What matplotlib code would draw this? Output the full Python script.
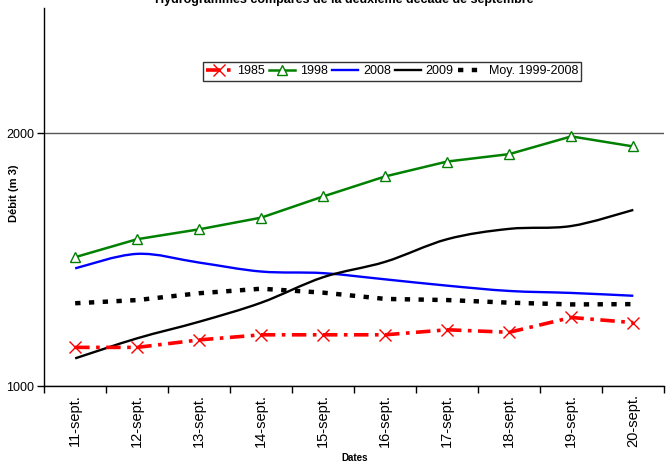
import numpy as np
import matplotlib
matplotlib.use("Agg")
import matplotlib.pyplot as plt
from matplotlib.path import Path
from matplotlib.patches import PathPatch
from matplotlib.lines import Line2D

# ==========================================
# données (m3)
# ==========================================
dates = ['11-sept.', '12-sept.', '13-sept.', '14-sept.', '15-sept.',
         '16-sept.', '17-sept.', '18-sept.', '19-sept.', '20-sept.']
q_1985 = [1112, 1112, 1135, 1151, 1151, 1151, 1167, 1159, 1207, 1190]
q_1998 = [1424, 1496, 1537, 1587, 1682, 1777, 1851, 1889, 1983, 1929]
q_2008 = [1381, 1437, 1403, 1369, 1363, 1340, 1317, 1298, 1291, 1281]
q_2009 = [1079, 1140, 1193, 1257, 1348, 1406, 1496, 1539, 1551, 1621]
q_moy = [1255, 1266, 1290, 1306, 1292, 1270, 1266, 1257, 1251, 1252]
yticks = [1000, 2000]

TITLE = 'Hydrogrammes comparés de la deuxième décade de septembre'
plt.rcParams['font.family'] = ['Liberation Sans', 'DejaVu Sans']


def smooth_path(xs, ys):
    # courbe lissée façon Excel : Catmull-Rom -> Bézier, en espace log
    px = np.asarray(xs, dtype=float)
    py = np.log10(np.asarray(ys, dtype=float))
    n = len(px)
    verts = [(px[0], 10 ** py[0])]
    codes = [Path.MOVETO]
    for i in range(n - 1):
        i0, i3 = max(i - 1, 0), min(i + 2, n - 1)
        c1 = (px[i] + (px[i + 1] - px[i0]) / 6, py[i] + (py[i + 1] - py[i0]) / 6)
        c2 = (px[i + 1] - (px[i3] - px[i]) / 6, py[i + 1] - (py[i3] - py[i]) / 6)
        verts += [(c1[0], 10 ** c1[1]), (c2[0], 10 ** c2[1]), (px[i + 1], 10 ** py[i + 1])]
        codes += [Path.CURVE4] * 3
    return Path(verts, codes)


fig = plt.figure(figsize=(6.69, 4.68), dpi=100)
ax = fig.add_axes([0.066, 0.175, 0.927, 0.808])
x = np.arange(len(dates))

ax.set_yscale('log')
ax.set_ylim(1000, 2820)
ax.set_xlim(-0.5, len(dates) - 0.5)

ax.plot(x, q_moy, color='black', lw=3.2, linestyle=(0, (1.2, 1.9)), zorder=3)
for serie, col in [(q_2008, 'blue'), (q_2009, 'black')]:
    ax.add_patch(PathPatch(smooth_path(x, serie), fill=False, edgecolor=col, lw=1.7, zorder=4))
ax.plot(x, q_1985, color='red', lw=2.6, linestyle=(0, (4, 1.8, 1, 1.8)),
        marker='x', ms=8, mew=1.0, zorder=5)
ax.plot(x, q_1998, color='#008000', lw=1.8, marker='^', ms=7.5, mfc='white',
        mec='#008000', mew=1.0, zorder=5)

# axes
for s in ['top', 'right']:
    ax.spines[s].set_visible(False)
ax.spines['left'].set_linewidth(1.0)
ax.spines['bottom'].set_linewidth(1.0)

ax.set_yticks(yticks, labels=[str(v) for v in yticks], fontsize=9)
ax.yaxis.set_minor_locator(plt.NullLocator())
ax.yaxis.grid(True, color='#555555', lw=1.0)
ax.set_axisbelow(True)
ax.tick_params(axis='y', direction='out', length=5, width=1, pad=2)

ax.set_xticks(np.arange(len(dates) + 1) - 0.5)
ax.set_xticklabels([])
ax.set_xticks(x, minor=True)
ax.set_xticklabels(dates, minor=True, rotation=90, fontsize=10.5)
ax.tick_params(axis='x', which='major', direction='out', length=5, width=1)
ax.tick_params(axis='x', which='minor', length=0, pad=6)

ax.set_xlabel('Dates', fontsize=7, fontweight='bold', labelpad=4)
ax.set_ylabel('Débit (m 3)', fontsize=8, fontweight='bold')
ax.yaxis.set_label_coords(-0.041, 0.51)

fig.text(0.515, 1.0, TITLE, ha='center', va='center', fontsize=9, fontweight='bold')

handles = [
    Line2D([], [], color='red', lw=2.6, linestyle=(0, (4, 1.8, 1, 1.8)), marker='x', ms=8),
    Line2D([], [], color='#008000', lw=1.8, marker='^', ms=7.5, mfc='white'),
    Line2D([], [], color='blue', lw=1.7),
    Line2D([], [], color='black', lw=1.7),
    Line2D([], [], color='black', lw=3.2, linestyle=(0, (1.2, 1.9))),
]
leg = ax.legend(handles, ['1985', '1998', '2008', '2009', 'Moy. 1999-2008'],
                ncol=5, loc='center', bbox_to_anchor=(0.561, 0.832),
                prop={'size': 9}, frameon=True, fancybox=False,
                handlelength=2.1, handletextpad=0.4, columnspacing=0.3,
                borderpad=0.25, borderaxespad=0)
leg.get_frame().set_edgecolor('black')
leg.get_frame().set_linewidth(1.0)

fig.savefig('out.png', dpi=100)
